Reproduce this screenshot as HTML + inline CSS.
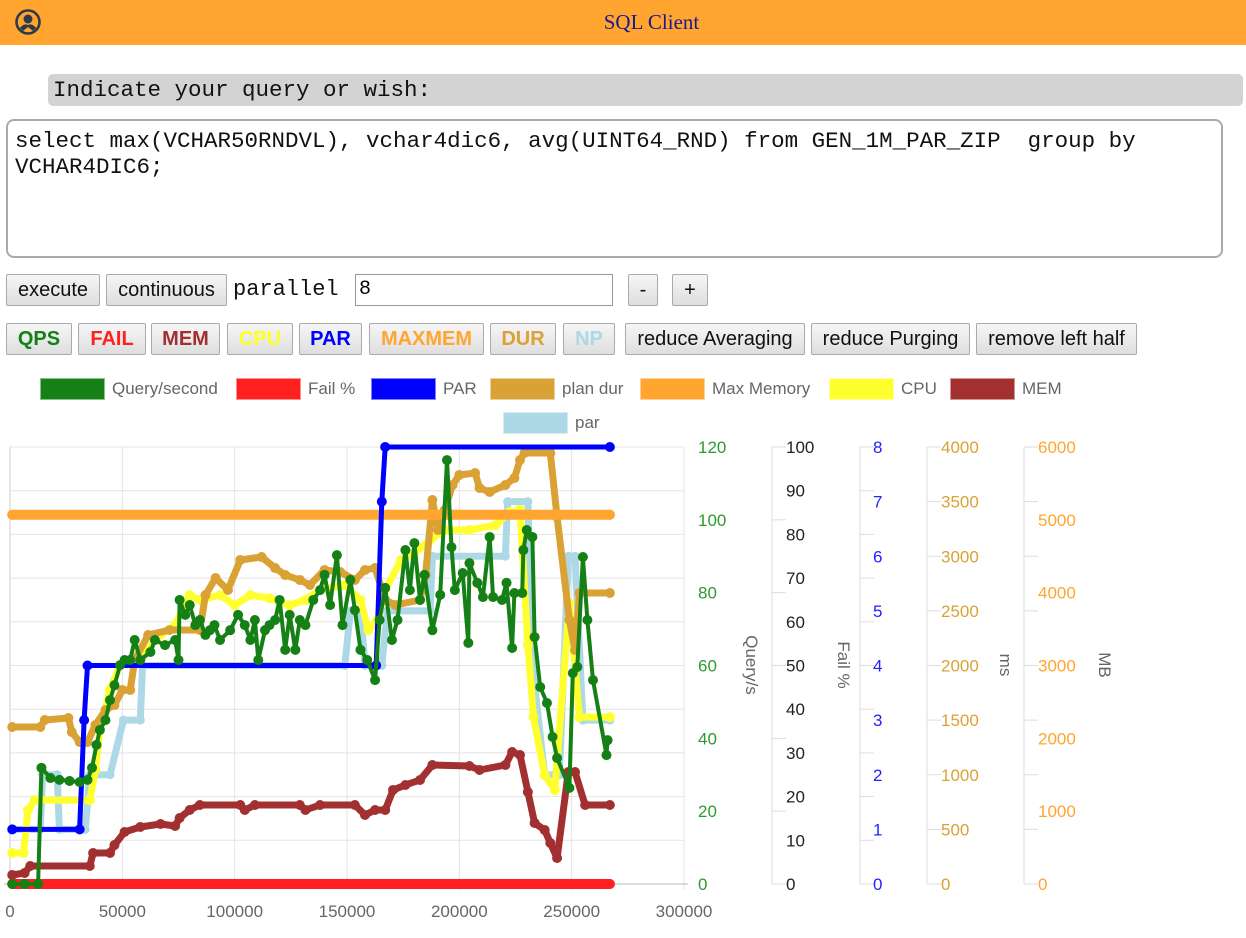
<!DOCTYPE html>
<html><head><meta charset="utf-8"><style>
body{margin:0;width:1246px;height:938px;background:#fff;font-family:"Liberation Sans",sans-serif;position:relative;overflow:hidden}
.abs{position:absolute}
.btn{position:absolute;box-sizing:border-box;border:1px solid #aaa;border-radius:2px;background:linear-gradient(#f6f6f6,#dedede);font-size:20px;text-align:center;line-height:30px;color:#111}
.b{font-weight:bold}
.mono{font-family:"Liberation Mono",monospace}
.leg{position:absolute;height:22px;width:65px;box-sizing:border-box;border:1px solid rgba(255,255,255,.5)}
.lt{position:absolute;font-size:17px;color:#666;line-height:22px}
</style></head><body>
<div class="abs" style="left:0;top:0;width:1246px;height:45px;background:#FFA530"></div>
<svg class="abs" style="left:14px;top:8px" width="30" height="30" viewBox="0 0 30 30"><circle cx="14" cy="14" r="11.5" fill="none" stroke="#2d3a4a" stroke-width="2.6"/><circle cx="14" cy="11" r="4.5" fill="#2d3a4a"/><path d="M6 20 Q10 15 14 17 Q18 15 22 20 L19 23 L14 19 L9 23Z" fill="#2d3a4a"/></svg>
<div class="abs" style="left:0;width:1303px;top:10px;text-align:center;font-family:'Liberation Serif',serif;font-size:21px;color:#1a1a8c">SQL Client</div>
<div class="abs mono" style="left:48px;top:74px;width:1195px;height:32px;background:#d3d3d3;border-radius:5px;font-size:22.5px;line-height:32px;padding-left:5px;box-sizing:border-box;color:#111">Indicate your query or wish:</div>
<div class="abs mono" style="left:6px;top:119px;width:1217px;height:139px;box-sizing:border-box;border:2px solid #aaa;border-radius:8px;font-size:22.5px;line-height:26px;padding:7px 7px;color:#111;white-space:pre-wrap">select max(VCHAR50RNDVL), vchar4dic6, avg(UINT64_RND) from GEN_1M_PAR_ZIP  group by VCHAR4DIC6;</div>
<div class="btn" style="left:6px;top:274px;width:94px;height:32px">execute</div>
<div class="btn" style="left:106px;top:274px;width:121px;height:32px">continuous</div>
<div class="abs mono" style="left:233px;top:275px;font-size:22px;line-height:30px;color:#111">parallel</div>
<div class="abs" style="left:355px;top:274px;width:258px;height:32px;box-sizing:border-box;border:1px solid #999;font-size:20px;line-height:30px;padding-left:3px;font-family:'Liberation Mono',monospace">8</div>
<div class="btn" style="left:628px;top:274px;width:30px;height:32px">-</div>
<div class="btn" style="left:672px;top:274px;width:36px;height:32px">+</div>
<div class="btn b" style="left:6px;top:323px;width:66px;height:32px;color:#158015">QPS</div>
<div class="btn b" style="left:78px;top:323px;width:68px;height:32px;color:#ff2020">FAIL</div>
<div class="btn b" style="left:151px;top:323px;width:69px;height:32px;color:#a33030">MEM</div>
<div class="btn b" style="left:227px;top:323px;width:66px;height:32px;color:#ffff20">CPU</div>
<div class="btn b" style="left:299px;top:323px;width:63px;height:32px;color:#0000ff">PAR</div>
<div class="btn b" style="left:369px;top:323px;width:115px;height:32px;color:#ffa530">MAXMEM</div>
<div class="btn b" style="left:490px;top:323px;width:66px;height:32px;color:#daa235">DUR</div>
<div class="btn b" style="left:563px;top:323px;width:52px;height:32px;color:#add8e6">NP</div>
<div class="btn" style="left:625px;top:323px;width:180px;height:32px">reduce Averaging</div>
<div class="btn" style="left:811px;top:323px;width:159px;height:32px">reduce Purging</div>
<div class="btn" style="left:976px;top:323px;width:161px;height:32px">remove left half</div>

<div class="leg" style="left:40px;top:378px;background:#158015"></div><div class="lt" style="left:112px;top:378px">Query/second</div>
<div class="leg" style="left:236px;top:378px;background:#ff2020"></div><div class="lt" style="left:308px;top:378px">Fail %</div>
<div class="leg" style="left:371px;top:378px;background:#0000ff"></div><div class="lt" style="left:443px;top:378px">PAR</div>
<div class="leg" style="left:490px;top:378px;background:#daa235"></div><div class="lt" style="left:562px;top:378px">plan dur</div>
<div class="leg" style="left:640px;top:378px;background:#ffa530"></div><div class="lt" style="left:712px;top:378px">Max Memory</div>
<div class="leg" style="left:829px;top:378px;background:#ffff30"></div><div class="lt" style="left:901px;top:378px">CPU</div>
<div class="leg" style="left:950px;top:378px;background:#a33030"></div><div class="lt" style="left:1022px;top:378px">MEM</div>
<div class="leg" style="left:503px;top:412px;background:#add8e6"></div><div class="lt" style="left:575px;top:412px">par</div>

<svg id="chart" class="abs" style="left:0;top:0" width="1246" height="938"></svg>
<script>
const xTicks=[0,50000,100000,150000,200000,250000,300000];
const qpsTicks=[0,20,40,60,80,100,120];
const failTicks=[0,10,20,30,40,50,60,70,80,90,100];
const parTicks=[0,1,2,3,4,5,6,7,8];
const msTicks=[0,500,1000,1500,2000,2500,3000,3500,4000];
const mbTicks=[0,1000,2000,3000,4000,5000,6000];

const qpsX=[1000,6500,12500,14000,18000,22000,26500,31000,34500,36500,38500,40000,42500,44500,46500,49000,51000,53500,55500,58000,62500,64500,69000,73500,75000,75500,78000,80000,82500,84500,87000,89000,91000,93500,98000,101500,104500,107000,109000,110500,113500,115500,118000,120000,122500,124500,127000,129000,131500,135000,138000,140000,142500,145500,148000,151500,153500,156000,159000,162500,164500,167000,170000,172500,176000,178000,180000,182500,184500,188000,191500,194500,196500,198000,201500,204000,204500,208000,210500,213500,215000,219000,221000,223500,224500,228000,228500,230000,232500,233500,236000,239000,241500,243500,249000,250500,252500,255000,257000,259500,265500,266000];
const qpsY=[0,0,0,31.9,29.1,28.6,28.3,28.0,28.6,31.9,38.2,42.3,45.0,50.5,54.6,60.1,61.5,61.5,67.0,61.5,63.7,67.0,65.6,67.0,61.5,78.0,73.9,76.6,71.1,72.5,68.4,69.7,71.1,67.0,69.7,73.9,71.1,67.0,72.5,61.5,69.7,71.1,72.5,78.0,64.3,73.9,64.3,72.5,71.1,78.0,80.7,84.9,76.6,90.3,71.1,83.5,75.2,64.3,61.5,56.0,72.5,81.3,67.0,72.5,91.7,80.7,93.6,78.0,84.9,69.7,79.4,116.4,92.5,80.7,85.4,66.2,88.1,82.7,78.8,95.3,78.8,78.0,82.7,64.8,79.9,79.9,91.7,97.2,95.3,67.8,54.1,49.7,40.4,34.6,26.4,57.9,59.6,89.8,72.5,56.0,35.4,39.5];

const parX=[1000,31000,33000,34500,163000,165500,167000,267000];
const parY=[1,1,3,4,4,7,8,8];

const npX=[1000,13500,14500,21000,22000,33500,35500,44500,50500,58000,59000,149000,151500,156000,158000,165500,168000,187000,188000,220500,221500,230500,232500,238000,244500,248500,251500,255000,267000];
const npY=[1,1,2,2,1,1,2,2,3,3,4,4,5,5,4,4,5,5,6,6,7,7,4,2,2,6,6,3,3];

const cpuX=[1000,6000,8000,11000,35500,38000,40000,44500,49000,58000,64500,73500,80000,84500,93500,100000,107000,115500,124500,131500,138000,149000,156000,159500,163500,167000,174000,180000,187000,193500,204500,216000,222500,227000,230500,233000,238000,242500,249000,253500,267000];
const cpuY=[7.1,7.1,16.9,19.2,19.2,26.1,35.2,44.4,50.1,51.3,55.8,59.3,66.1,65.0,66.1,63.8,66.1,65.4,63.8,65.0,67.3,68.4,65.0,58.1,60.4,67.3,74.1,75.7,78.7,81.0,81.0,82.1,85.1,85.6,54.7,38.2,24.9,21.5,64.3,38.2,38.2];

const durX=[1000,13500,15500,26000,27500,31000,34500,38000,42500,46500,50000,53500,55500,61500,71000,84500,87000,91500,97000,102500,112000,118000,122500,129000,133500,140000,147000,153500,158000,162500,167000,171500,182500,185000,188000,190500,193500,197000,200000,207000,209000,213500,220500,224500,227000,229000,240500,243500,249000,251500,253500,267000];
const durY=[1437,1437,1501,1519,1391,1300,1300,1455,1593,1638,1776,1776,2050,2279,2325,2325,2645,2801,2691,2966,2993,2892,2828,2783,2737,2874,2856,2783,2874,2892,2600,2554,2600,2828,3515,3240,3423,3652,3744,3762,3625,3588,3652,3716,3881,3945,3945,3359,2416,2142,2664,2664];

const memX=[1000,6500,9000,35500,37000,44500,46500,51000,58000,67000,73500,75500,80000,84500,102500,104500,109000,129000,131500,138000,153500,158000,162500,167000,170500,176000,182500,188000,204500,209000,220500,223500,227000,230500,233500,238000,240500,243500,248500,251500,256000,267000];
const memY=[124,151,247,247,426,426,535,714,783,824,796,906,1016,1085,1085,1016,1085,1085,1016,1085,1085,947,1016,1016,1291,1359,1428,1634,1620,1565,1634,1812,1771,1263,838,741,563,357,1538,1538,1085,1085];

const failX=[1000,267000];
const failY=[0,0];
const maxMemX=[1000,267000];
const maxMemY=[5070,5070];

const NS='http://www.w3.org/2000/svg';
const svg=document.getElementById('chart');
const L=10,R=684,T=447,B=884;
const xs=v=>L+v/300000*(R-L);
const yAxis=max=>v=>B-v/max*(B-T);
const yQ=yAxis(120),yF=yAxis(100),yP=yAxis(8),yMs=yAxis(4000),yMb=yAxis(6000);
function mk(tag,attrs,parent){const e=document.createElementNS(NS,tag);for(const k in attrs)e.setAttribute(k,attrs[k]);(parent||svg).appendChild(e);return e;}
const grid=mk('g',{});


failTicks.forEach(t=>{mk('line',{x1:L,x2:R,y1:yF(t),y2:yF(t),stroke:'#e4e4e4','stroke-width':1},grid);});
xTicks.forEach(t=>{mk('line',{x1:xs(t),x2:xs(t),y1:T,y2:B+6,stroke:'#e4e4e4','stroke-width':1},grid);
 const tx=mk('text',{x:xs(t),y:B+33,'text-anchor':'middle','font-size':17,fill:'#666','font-family':'Liberation Sans'},grid);tx.textContent=t;
 
 });
mk('line',{x1:L,x2:L,y1:T,y2:B,stroke:'#ccc'},grid);
mk('line',{x1:L-6,x2:R+4,y1:B,y2:B,stroke:'#bbb'},grid);
function axis(name,lineX,ticks,scale,tickTicks,tickScale,color,labelX,title,titleX){
 const g=mk('g',{});
 
 
 if(lineX!==null){mk('line',{x1:lineX,x2:lineX,y1:T,y2:B,stroke:'#ddd'},g);
  tickTicks.forEach(t=>mk('line',{x1:lineX,x2:lineX+14,y1:tickScale(t),y2:tickScale(t),stroke:'#ddd'},g));}
 ticks.forEach(t=>{const tx=mk('text',{x:labelX,y:scale(t)+6,'font-size':17,fill:color,'font-family':'Liberation Sans'},g);tx.textContent=t;
  
  });
 if(title){const tt=mk('text',{x:titleX,y:665,'font-size':17,fill:'#666','font-family':'Liberation Sans','text-anchor':'middle',transform:'rotate(90 '+titleX+' 665)'},g);tt.textContent=title;
  
  }
}
axis('qps-axis',null,qpsTicks,yQ,[],yQ,'#2e9a2e',698,'Query/s',746);
axis('fail-axis',772,failTicks,yF,qpsTicks,yQ,'#222',786,'Fail %',838);
axis('par-axis',860,parTicks,yP,failTicks,yF,'#2222ff',873,null,0);
axis('ms-axis',927,msTicks,yMs,parTicks,yP,'#daa235',941,'ms',1000);
axis('mb-axis',1024,mbTicks,yMb,msTicks,yMs,'#ffa530',1038,'MB',1099);
function series(name,X,Y,ys,color,w,r){
 const g=mk('g',{});
 
 
 const pts=X.map((x,i)=>xs(x).toFixed(1)+','+ys(Y[i]).toFixed(1)).join(' ');
 mk('polyline',{points:pts,fill:'none',stroke:color,'stroke-width':w,'stroke-linejoin':'round','stroke-linecap':'round'},g);
 X.forEach((x,i)=>{const c=mk('circle',{cx:xs(x),cy:ys(Y[i]),r:r,fill:color},g);
  
  });
}
series('np-line',npX,npY,yP,'#add8e6',7,4.5);
series('mem-line',memX,memY,yMb,'#a33030',7,5);
series('cpu-line',cpuX,cpuY,yF,'#ffff30',7,5);
series('plan-dur-line',durX,durY,yMs,'#daa235',7,5);
series('max-memory-line',maxMemX,maxMemY,yMb,'#ffa530',10,5);
series('par-line',parX,parY,yP,'#0000ff',5,5);
series('fail-line',failX,failY,yF,'#ff2020',10,5);
series('qps-line',qpsX,qpsY,yQ,'#158015',4,5);
</script>
</body></html>
